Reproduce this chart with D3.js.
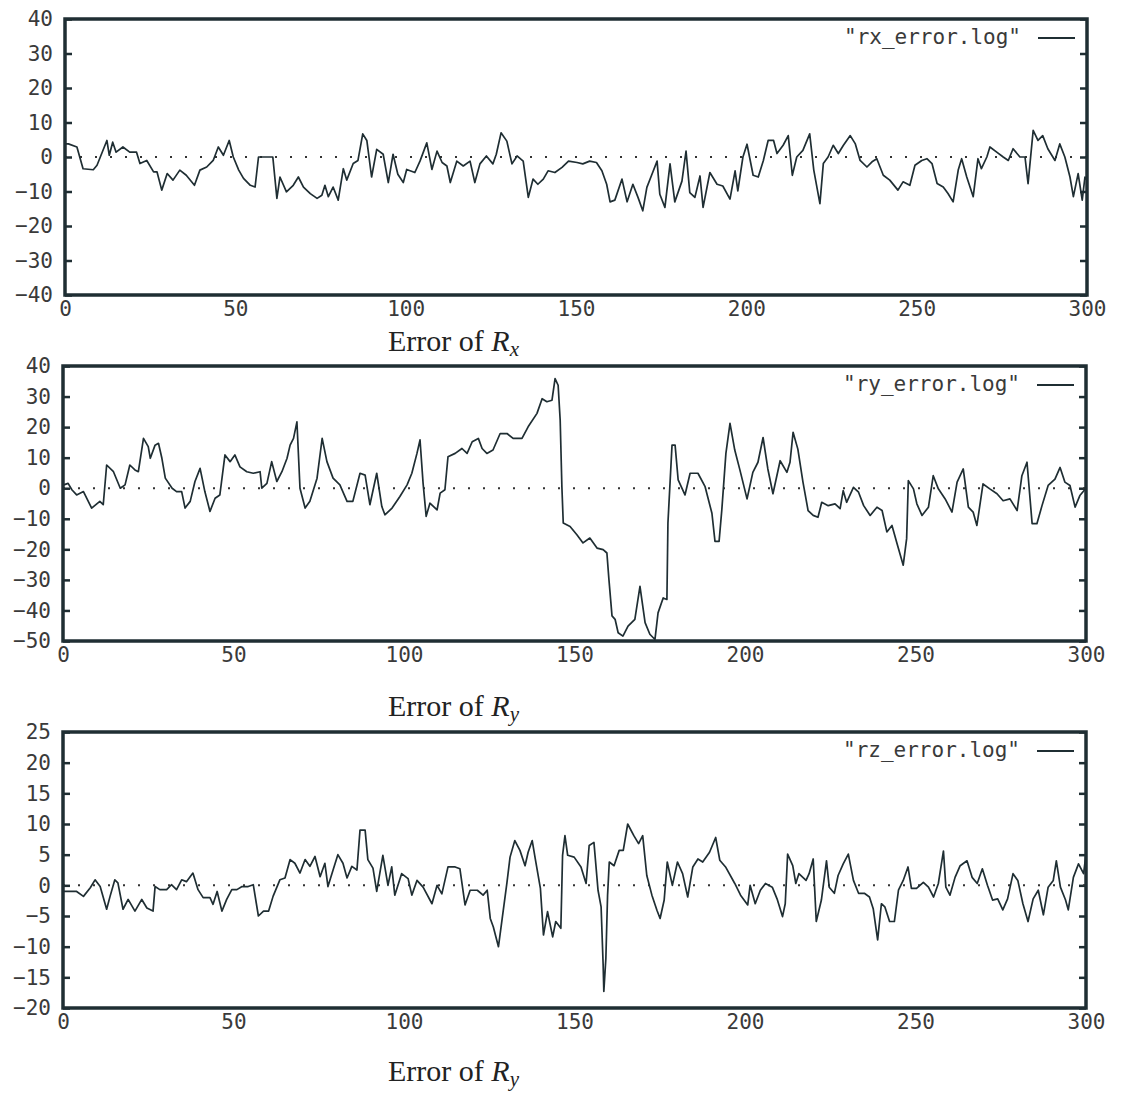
<!doctype html>
<html lang="en">
<head>
  <meta charset="utf-8">
  <script src="https://cdn.jsdelivr.net/npm/d3@7"></script>
  <title>Error of Rx, Ry, Rz</title>
  <style>
    body { margin: 0; background: #fff; }
    .tick text { font-family: "DejaVu Sans Mono", monospace; font-size: 21px; fill: #3a3a3a; }
    .title { font-family: "Liberation Serif", serif; font-size: 30px; fill: #222; }
    .key { font-family: "DejaVu Sans Mono", monospace; font-size: 21px; fill: #3a3a3a; }
  </style>
</head>
<body>
<svg id="chart" width="1124" height="1095"></svg>
<script>
// values: [sample index, error]
var rxError = [[0,3.8],[1,3.8],[3.5,2.9],[5.3,-3.4],[8.3,-3.7],[9.4,-2.4],[12.3,4.8],[13,0.5],[14,4.3],[15,1.4],[17,2.9],[19,1.4],[21,1.4],[22,-1.9],[24,-1],[26,-4.3],[27,-4.3],[28.4,-9.6],[30,-4.8],[31.7,-6.7],[33.7,-3.8],[35.6,-5.3],[38,-8.2],[39.6,-3.8],[41.6,-2.9],[43.5,-1],[45,2.9],[46.5,0.5],[48.2,4.8],[49.4,0],[51,-3.8],[52.4,-6.2],[54.4,-8.2],[55.8,-8.7],[56.8,0],[61,0],[62.2,-12],[63.1,-5.8],[65,-10.1],[67,-8.2],[68.5,-5.8],[70,-8.7],[72,-10.6],[74,-12],[75.4,-11.1],[76.3,-8.2],[77.3,-11.5],[78.7,-8.7],[80.2,-12.5],[81.7,-3.4],[82.7,-6.7],[84.6,-1.9],[86,-1],[87.4,6.7],[88.6,4.8],[90,-5.8],[91.5,2.2],[93.4,0.8],[94.9,-7.4],[96.3,0.8],[97.7,-5],[99.3,-7.4],[100.3,-3.6],[102.7,-4.5],[104.2,-1.2],[106.2,4.1],[107.7,-3.6],[109.2,1.7],[110.7,-1.6],[112.1,-2.6],[113.1,-7.4],[115,-1.2],[116.9,-2.6],[118.9,-1.2],[120.3,-7.4],[121.8,-2],[123.7,0.3],[125.6,-2],[126.6,0.8],[128,7],[129.7,4.6],[131.2,-2],[132.7,0.3],[134.5,-1.2],[136,-11.7],[137.4,-6.4],[138.8,-7.9],[140.4,-6.4],[141.8,-4],[143.8,-4.5],[145.9,-3],[147.8,-1.2],[150.3,-1.6],[152,-2],[154,-1.2],[156,-1.6],[157.6,-4],[159,-7.9],[160,-13],[161.4,-12.5],[163.5,-6.4],[165,-13],[166.7,-7.9],[168.2,-11.7],[169.6,-15.6],[170.8,-8.8],[172.3,-5],[173.8,-1.2],[174.6,-10.8],[176.1,-14.6],[177.6,-2],[179,-13],[181.1,-7],[182.3,1.7],[183.4,-10.3],[184.9,-11.7],[186.4,-5.5],[187.3,-14.6],[189.3,-4.5],[191.4,-7.9],[193.1,-8.4],[195.2,-12.2],[196.7,-4],[197.5,-9.8],[199,0],[200.2,3.7],[202,-5.3],[203.5,-5.8],[205,-1],[206.4,4.8],[208,4.8],[209,1],[210.8,3.4],[212.3,6.2],[213.5,-5.3],[214.8,0],[216.6,1.9],[218.6,6.7],[219.8,-3.8],[221.6,-13.5],[222.6,-1.9],[224,0],[225.5,3.4],[227,1],[228.5,3.4],[230.5,6.2],[232,3.8],[233.4,-1],[235.4,-2.9],[236.9,-1.4],[238.3,-0.5],[240.2,-5.3],[242.1,-6.7],[244.5,-9.6],[246,-7.2],[248,-8.2],[249.5,-2.4],[251.5,-1],[253,-0.5],[254.5,-1.9],[256,-7.7],[257.8,-8.7],[259.2,-10.6],[260.7,-13],[262.2,-3.8],[263.2,-0.5],[264.7,-5.8],[266.6,-11.5],[268,-0.5],[269,-3.4],[270.6,0],[271.5,2.9],[273.5,1.4],[275.4,0],[276.9,-1],[278.3,2.4],[280.3,0],[281.8,0],[282.7,-7.7],[284.2,7.7],[285.6,4.8],[287,6.2],[288.5,2.4],[290.6,-1],[292,3.8],[293.5,0],[295,-5.8],[296,-11.5],[297.4,-4.8],[298.6,-12.5],[299.4,-5.8],[300,-6.7]];

var ryError = [[0,1],[1.5,1.6],[2.6,-0.5],[4,-2.2],[6,-1.1],[8.4,-6.5],[10.8,-4.3],[11.8,-5.4],[12.8,7.6],[14.8,5.4],[16.8,0],[18.2,1.1],[19.6,7.6],[21.1,6],[22.1,5.4],[23.6,16.3],[25,13.6],[25.6,9.8],[27,14.1],[28,14.7],[29,9.8],[30,3.3],[32,0],[33.3,-1.1],[34.8,-1.1],[35.8,-6.5],[37.3,-4.3],[38.7,2.2],[40.2,6.5],[41.6,-1.1],[43.1,-7.6],[44.6,-3.3],[46,-2.2],[47.5,10.9],[49,8.7],[50.4,10.9],[51.9,7],[53.9,5.4],[55.8,4.9],[57.8,5.4],[58.3,0],[59.8,1.6],[61.2,8.7],[62.7,2.2],[64.2,5.4],[65.7,9.8],[66.6,14.1],[67.6,16.3],[68.6,21.7],[69.5,0],[71,-6.5],[72.4,-4.3],[74.5,3.3],[76,16.3],[77.4,8.7],[79.2,3.3],[81.2,1.1],[83.3,-4.3],[85,-4.3],[87.1,4.9],[88.6,4.3],[90,-5.4],[92,4.9],[93.5,-6],[94.4,-8.7],[96.5,-6.5],[98.8,-2.7],[100.9,1.1],[102.3,4.9],[103.8,11.4],[104.7,15.8],[105.6,1.6],[106.5,-9.2],[107.6,-4.9],[109.7,-7.1],[110.6,-1.6],[112,-0.5],[112.9,10.3],[115,11.4],[117,13],[118.5,11.4],[120,15.2],[121.8,16.3],[122.9,13],[124.3,11.4],[126.1,12.5],[128.2,17.9],[130.2,17.9],[132,16.3],[134.6,16.3],[136.4,20.1],[139,24.5],[140.5,29.3],[141.9,28.3],[143.4,28.8],[144.3,35.9],[145.2,33.7],[145.8,22.3],[146.3,0.5],[146.7,-11.4],[148.7,-12.5],[150.7,-15.2],[152.5,-17.9],[154.5,-16.3],[156.6,-19.6],[158.4,-20.1],[159.5,-21.2],[160.1,-29.9],[161,-41.8],[161.9,-42.9],[162.8,-47.3],[164.2,-48.4],[165.7,-45.1],[167.7,-42.9],[169.2,-32.1],[170.7,-44],[172.1,-47.8],[173.6,-49.5],[174.5,-40.8],[176,-35.9],[177.1,-36.4],[177.4,-11.4],[178.6,14.1],[179.5,14.1],[180.4,2.7],[182.4,-2.2],[183.9,4.9],[186.2,4.9],[188.3,0.5],[190.3,-8.2],[191.2,-17.4],[192.4,-17.4],[193.2,-7.1],[194.4,11.4],[195.6,21.2],[197,12.5],[198.5,6],[200.6,-3.5],[202.3,5.2],[203.8,8.5],[205.3,16.6],[206.7,6.3],[208.2,-1.8],[210.3,9],[212.3,5.2],[213.2,8.5],[214.1,18.3],[215.5,12.8],[217,2],[218.5,-7.3],[220,-8.9],[221.4,-9.5],[222.5,-4.6],[224.4,-5.7],[226.4,-5.1],[227.9,-6.7],[228.8,-0.8],[229.8,-4.6],[231.8,0.3],[233.3,-1.3],[234.8,-5.7],[236.7,-8.9],[238.7,-6.2],[240.2,-7.3],[241.6,-14.3],[243.1,-12.2],[244.6,-18.2],[246.4,-25.2],[247.4,-16.5],[247.9,2.5],[249.4,-0.2],[250.4,-5.1],[251.9,-8.9],[253.8,-6.2],[255.2,4.1],[256.7,-0.2],[258.7,-3.5],[260.7,-7.8],[262.2,2],[264,6.3],[265.5,-6.2],[266.9,-7.8],[268,-12.2],[269.8,1.4],[271.8,-0.2],[273.9,-1.8],[275.7,-4.1],[277.7,-3.5],[279.8,-7.3],[281.2,4.1],[282.7,8.5],[284.2,-11.6],[285.6,-11.6],[287.1,-5.7],[288.9,0.9],[290.9,3],[292.4,6.8],[293.8,2],[295.3,0.9],[296.8,-6.2],[298.2,-2.4],[300,0]];

var rzError = [[0,-1],[1.5,-1],[4,-1],[6,-1.8],[8,-0.4],[9.4,0.9],[10.9,-0.2],[12.8,-3.9],[13.8,-1.8],[15.2,0.9],[16.1,0.4],[17.6,-3.9],[19.1,-2.3],[21.1,-4.2],[23.1,-2.3],[24.6,-3.7],[26.4,-4.2],[27,-0.2],[28.4,-0.7],[30.4,-0.7],[31.8,0.1],[33.3,-0.7],[34.8,0.9],[36.2,0.6],[38.1,2],[39.6,-0.7],[41.1,-2],[43.1,-2],[44,-3.1],[45.2,-1],[46.6,-4.2],[48,-2.3],[49.5,-0.7],[51,-0.7],[52.5,-0.2],[54.3,-0.2],[55.8,0.1],[57.3,-5],[58.8,-4.2],[60.3,-4.2],[61.6,-1.8],[63.6,0.9],[65.1,1.2],[66.6,4.2],[68,3.6],[69.5,2],[71,4.2],[72.4,3.1],[73.9,4.7],[75.4,1.4],[76.8,3.6],[77.7,-0.2],[79.2,2.5],[80.6,5],[82.1,3.6],[83.3,1.2],[84.7,3.1],[86.2,2.5],[87.1,9],[88.6,9],[89.4,4.2],[90.9,2.8],[92,-1],[93.8,4.9],[95.3,0],[96.4,3],[97.3,-1.6],[99.3,1.9],[101.2,1.1],[102.3,-1.6],[103.8,0.8],[105.6,-0.3],[108.2,-3],[109.7,0],[111.1,-1.4],[112.9,3],[115,3],[116.4,2.7],[117.9,-3.2],[119.4,-0.8],[121.5,-0.8],[123.2,-1.6],[124.4,-0.8],[125.3,-5.4],[126.2,-6.8],[127.7,-10],[128.8,-5.4],[130.2,0.5],[131.1,4.6],[132.5,7.3],[134,5.7],[135.5,3.2],[136.4,5.4],[137.6,7.3],[138.5,4.3],[140,-0.5],[140.9,-8.1],[142.1,-4.3],[143.6,-8.4],[144.5,-5.9],[146,-7],[146.5,4.9],[147.2,8.1],[148,4.9],[149.9,4.6],[151.9,3],[153.4,0.3],[154.3,6.5],[155.7,7],[156.9,-0.8],[157.8,-3.5],[158.4,-13],[158.6,-17.3],[159.2,-11.9],[159.7,-1.6],[160.2,3.8],[161.6,3.2],[163.1,5.7],[164.3,5.7],[165.6,10],[167.4,8.1],[168.8,6.8],[170,8.1],[171.2,1.6],[172.7,-1.6],[174.2,-4.1],[175.1,-5.4],[176.3,-2.4],[177.2,3.8],[178.7,0],[180.2,3.8],[181.7,1.9],[183.2,-1.9],[184.7,3],[186.2,4.3],[187.6,3.8],[189.6,5.4],[191.4,7.8],[192.6,4.1],[194.3,3],[197,0.3],[198.7,-1.6],[200.8,-3.2],[201.5,0],[203,-3],[204.5,-0.8],[206,0.3],[208,-0.3],[209.4,-2.2],[211,-5.1],[211.8,-3],[212.5,5.1],[214,3.2],[214.9,0.3],[215.8,1.9],[217.9,0.8],[218.8,1.9],[220,4.3],[220.9,-5.9],[222.4,-2.4],[223.9,4],[224.7,-0.3],[226.2,-1.3],[227.3,1.6],[228.8,3.5],[230.3,5.1],[231.8,0.8],[233.3,-1.3],[235,-1.3],[236.5,-1.9],[237.6,-3.8],[238.9,-8.9],[240,-3],[241,-3.5],[242.4,-5.9],[243.8,-5.9],[245,-0.8],[246.4,0.8],[247.8,3],[248.8,-0.5],[250.3,-0.5],[252.3,0.5],[253.8,-0.3],[255.3,-1.9],[256.7,0.3],[258.2,5.6],[258.9,-0.3],[260.1,-1.6],[261.6,1.3],[263.1,3.2],[265.1,4],[266.6,1.3],[268.1,0.3],[269.6,2.7],[271.1,0],[272.6,-2.4],[274.1,-2.2],[275.6,-4],[277,-2.2],[278.6,1.9],[280,0.8],[281.5,-3],[283,-5.9],[284.5,-2.2],[286,-0.8],[287.5,-4.8],[288.9,-0.3],[290.4,0.8],[291.3,4],[292.5,-0.3],[294,-2.4],[294.8,-4],[296.3,1.3],[297.8,3.5],[299.3,1.9],[300,5.1]];

var xTicks = [0, 50, 100, 150, 200, 250, 300];
var rxTicks = [-40, -30, -20, -10, 0, 10, 20, 30, 40];
var ryTicks = [-50, -40, -30, -20, -10, 0, 10, 20, 30, 40];
var rzTicks = [-20, -15, -10, -5, 0, 5, 10, 15, 20, 25];
var keyLabels = ['"rx_error.log"', '"ry_error.log"', '"rz_error.log"'];
var titleSubs = ["x", "y", "y"];

// frame boxes of the three plots on the page
var panels = [
  { data: rxError, ticks: rxTicks, left: 65, right: 1087, top: 19, bottom: 295, titleY: 351 },
  { data: ryError, ticks: ryTicks, left: 63, right: 1086, top: 366, bottom: 641, titleY: 716 },
  { data: rzError, ticks: rzTicks, left: 63, right: 1086, top: 732, bottom: 1008, titleY: 1081 }
];

var ink = "#1f2e33";
var svg = d3.select("#chart");

panels.forEach(function(p, k) {
  var ys = p.ticks;
  var x = d3.scaleLinear().domain([0, 300]).range([p.left, p.right]);
  var y = d3.scaleLinear().domain([ys[0], ys[ys.length - 1]]).range([p.bottom, p.top]);
  var g = svg.append("g");

  // y axis, ticks inside the frame
  g.append("g")
      .attr("transform", "translate(" + p.left + ",0)")
      .call(d3.axisLeft(y).tickValues(ys).tickSize(-7).tickPadding(12).tickFormat(d3.format("d")))
      .call(function(a) { a.select(".domain").remove(); a.selectAll("line").attr("stroke", ink).attr("stroke-width", 2.5); });
  g.append("g")
      .attr("transform", "translate(" + p.right + ",0)")
      .call(d3.axisRight(y).tickValues(ys).tickSize(-7).tickFormat(""))
      .call(function(a) { a.select(".domain").remove(); a.selectAll("line").attr("stroke", ink).attr("stroke-width", 2.5); });

  g.append("g")
      .attr("transform", "translate(0," + p.bottom + ")")
      .call(d3.axisBottom(x).tickValues(xTicks).tickSize(0).tickPadding(6))
      .call(function(a) { a.select(".domain").remove(); });

  // dotted zero axis
  g.append("line")
      .attr("x1", x(0)).attr("x2", x(300))
      .attr("y1", y(0)).attr("y2", y(0))
      .attr("stroke", "#333").attr("stroke-width", 2)
      .attr("stroke-dasharray", "2,13");

  var line = d3.line()
      .x(function(d) { return x(d[0]); })
      .y(function(d) { return y(d[1]); });

  g.append("path")
      .datum(p.data)
      .attr("d", line)
      .attr("fill", "none")
      .attr("stroke", ink)
      .attr("stroke-width", 1.7)
      .attr("stroke-linejoin", "round");

  g.append("rect")
      .attr("x", p.left).attr("y", p.top)
      .attr("width", p.right - p.left).attr("height", p.bottom - p.top)
      .attr("fill", "none").attr("stroke", ink).attr("stroke-width", 3.5);

  // key
  g.append("text").attr("class", "key")
      .attr("x", p.right - 66).attr("y", p.top + 25)
      .attr("text-anchor", "end")
      .text(keyLabels[k]);
  g.append("line")
      .attr("x1", p.right - 49).attr("x2", p.right - 12)
      .attr("y1", p.top + 19).attr("y2", p.top + 19)
      .attr("stroke", ink).attr("stroke-width", 2);

  // title under the plot
  var t = g.append("text").attr("class", "title")
      .attr("x", 388).attr("y", p.titleY);
  t.append("tspan").text("Error of ");
  t.append("tspan").attr("font-style", "italic").text("R");
  t.append("tspan").attr("font-style", "italic").attr("font-size", "21px").attr("dy", 5).text(titleSubs[k]);
});
</script>
</body>
</html>
